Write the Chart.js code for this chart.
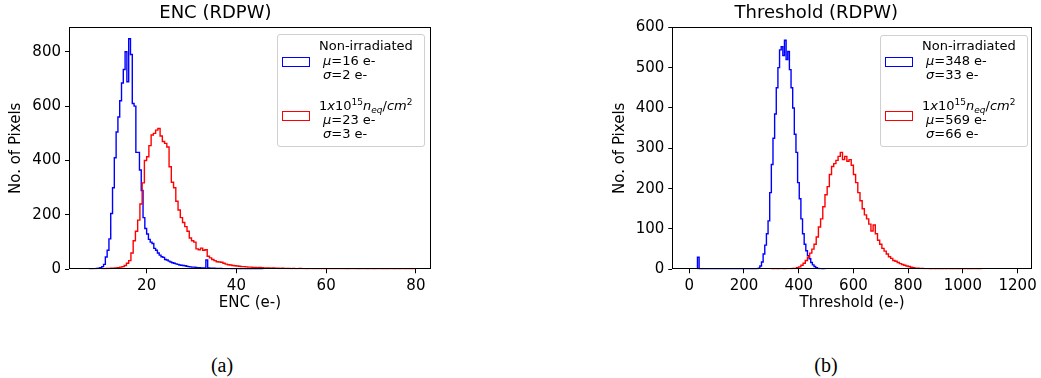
<!DOCTYPE html>
<html><head><meta charset="utf-8">
<script src="https://cdn.jsdelivr.net/npm/chart.js@4/dist/chart.umd.min.js"></script>
<style>
html,body{margin:0;padding:0;background:#fff;width:1041px;height:378px;overflow:hidden;position:relative;font-family:"DejaVu Sans",sans-serif;}
canvas{position:absolute;top:0;}
#c1{left:0}
#c2{left:600px}
.leg{position:absolute;border:1px solid #d0d0d0;border-radius:3px;background:rgba(255,255,255,0.8);box-sizing:border-box}
.patch{position:absolute;box-sizing:border-box;border:1px solid;background:transparent}
.lt{position:absolute;font-size:13px;line-height:15px;white-space:nowrap;color:#000}
.lt i{font-style:italic}
.sup{font-size:9px;vertical-align:5px}
.sub{font-size:9px;vertical-align:-3px;font-style:italic}
.cap{position:absolute;font-family:"Liberation Serif",serif;font-size:20px;line-height:22px;white-space:nowrap;transform:translateX(-50%)}
</style>
</head><body>
<canvas id="c1" width="450" height="320"></canvas>
<canvas id="c2" width="441" height="320"></canvas>

<div class="leg" style="left:277px;top:34px;width:148px;height:113px"></div>
<div class="patch" style="left:282px;top:57px;width:28px;height:10px;border-color:#0000ff"></div>
<div class="patch" style="left:282px;top:111px;width:28px;height:10px;border-color:#ff0000"></div>
<div class="lt" style="left:319px;top:38px">Non-irradiated</div>
<div class="lt" style="left:323px;top:53px"><i>μ</i>=16 e-</div>
<div class="lt" style="left:323px;top:67px"><i>σ</i>=2 e-</div>
<div class="lt" style="left:319px;top:95px">1<i>x</i>10<span class="sup">15</span><i>n</i><span class="sub">eq</span>/<i>cm</i><span class="sup">2</span></div>
<div class="lt" style="left:323px;top:112px"><i>μ</i>=23 e-</div>
<div class="lt" style="left:323px;top:126px"><i>σ</i>=3 e-</div>

<div class="leg" style="left:880px;top:35px;width:148px;height:112px"></div>
<div class="patch" style="left:885px;top:57px;width:28px;height:10px;border-color:#0000ff"></div>
<div class="patch" style="left:885px;top:111px;width:28px;height:10px;border-color:#ff0000"></div>
<div class="lt" style="left:922px;top:38px">Non-irradiated</div>
<div class="lt" style="left:926px;top:53px"><i>μ</i>=348 e-</div>
<div class="lt" style="left:926px;top:67px"><i>σ</i>=33 e-</div>
<div class="lt" style="left:922px;top:95px">1<i>x</i>10<span class="sup">15</span><i>n</i><span class="sub">eq</span>/<i>cm</i><span class="sup">2</span></div>
<div class="lt" style="left:926px;top:112px"><i>μ</i>=569 e-</div>
<div class="lt" style="left:926px;top:126px"><i>σ</i>=66 e-</div>

<div class="cap" style="left:222px;top:354px">(a)</div>
<div class="cap" style="left:826px;top:354px">(b)</div>

<script>
// ---------- data ----------
const encTitle = "ENC (RDPW)";
const encXLabel = "ENC (e-)";
const yLabel = "No. of Pixels";
const encXTicks = [20, 40, 60, 80];
const encYTicks = [0, 200, 400, 600, 800];
const encXRange = [2.7, 83.3];
const encYRange = [0, 890];

const encBlueStart = 7.2;
const encBlueWidth = 0.4;
const encBlue = [1,1,2,2,3,4,6,10,18,45,70,112,205,300,410,505,560,620,685,735,800,690,848,790,610,600,430,430,365,290,190,150,130,110,100,95,77,70,60,52,46,44,36,34,30,27,24,22,20,18,16,15,14,13,11,10,9,8,8,7,6,6,5,5,5,34,5,4,4,4,3,3,3,3,2,2,2,2,2,1,2,1,1,1,0,1,1,0,1,0,0,1,0,1,0,0,1];

const encRedStart = 10.0;
const encRedWidth = 0.5;
const encRed = [2,2,3,3,4,4,5,6,8,10,14,22,32,60,105,140,181,240,318,400,414,455,494,500,512,518,490,470,463,450,377,320,300,250,218,190,172,157,140,115,105,100,75,72,78,70,72,48,42,36,32,28,27,26,22,19,17,16,14,13,12,11,10,10,9,8,8,7,7,6,7,6,5,5,5,4,5,4,4,3,4,3,3,3,2,3,2,2,3,2,2,1,2,2,1,2,1,1,2,1,1,2,1,1,1,2,1,1,1,0,1,2,1,1,0,1,1,1,0,1,1,0,1,1,1,0,1,0,1,1,0,1,0,1,1,0,1,0,0,1];

const thrTitle = "Threshold (RDPW)";
const thrXLabel = "Threshold (e-)";
const thrXTicks = [0, 200, 400, 600, 800, 1000, 1200];
const thrYTicks = [0, 100, 200, 300, 400, 500, 600];
const thrXRange = [-62, 1252];
const thrYRange = [0, 600];

const thrBlueStart = 30;
const thrBlueWidth = 6;
const thrBlue = [30,0,0,0,0,0,0,0,0,0,0,0,0,0,0,0,0,0,0,0,0,0,0,0,0,0,0,0,0,0,0,0,0,0,0,0,
  1,3,8,18,38,60,88,120,190,260,325,385,450,500,544,552,530,568,520,540,495,450,400,335,290,215,175,125,88,62,46,34,26,17,11,7,4,2,1,1,0,1];

const thrRedStart = 296;
const thrRedWidth = 8;
const thrRed = [1,0,1,0,1,1,0,1,1,1,2,2,4,6,10,15,22,30,40,50,62,80,105,125,155,185,205,235,255,262,270,280,290,272,280,268,272,258,235,215,190,170,150,135,125,112,95,110,88,72,62,52,45,38,31,27,22,20,17,14,12,10,8,7,5,4,3,3,2,2,1,1,1,0,1,0,1,0,0,1,0,1,0,0,1,0,0,1,0,1,0,0,0,1,0,0,1];

const seriesLabels = ["Non-irradiated", "1x10^15 n_eq/cm^2"];
const seriesColors = ["#0000ff", "#ff0000"];

// ---------- helpers ----------
function stepPoints(start, width, counts) {
  const pts = [{x: start, y: 0}];
  counts.forEach((c, i) => pts.push({x: start + i * width, y: c}));
  pts.push({x: start + counts.length * width, y: 0});
  return pts;
}

Chart.defaults.font.family = "'DejaVu Sans', sans-serif";
Chart.defaults.color = "#000";

const framePlugin = {
  id: 'frame',
  afterDatasetsDraw(chart) {
    const {ctx, chartArea: a} = chart;
    ctx.save();
    ctx.strokeStyle = '#000';
    ctx.lineWidth = 1;
    const l = Math.round(a.left) + 0.5, t = Math.round(a.top) + 0.5;
    const r = Math.round(a.right) - 0.5, b = Math.round(a.bottom) - 0.5;
    ctx.strokeRect(l, t, r - l, b - t);
    ctx.restore();
  }
};

function makeChart(id, cfg) {
  const H = 320;
  const ds = [
    {label: seriesLabels[0], data: stepPoints(cfg.blueStart, cfg.blueWidth, cfg.blue), borderColor: seriesColors[0], order: 1},
    {label: seriesLabels[1], data: stepPoints(cfg.redStart, cfg.redWidth, cfg.red), borderColor: seriesColors[1], order: 0}
  ].map(d => Object.assign(d, {stepped: true, pointRadius: 0, borderWidth: 1.4, fill: false, tension: 0}));
  return new Chart(document.getElementById(id), {
    type: 'line',
    data: {datasets: ds},
    plugins: [framePlugin],
    options: {
      responsive: false, animation: false, devicePixelRatio: 1,
      layout: {padding: {left: 0, top: 0, right: cfg.padRight, bottom: 0}},
      plugins: {
        legend: {display: false}, tooltip: {enabled: false},
        title: {display: true, text: cfg.title, font: {size: 18, weight: 'normal'}, color: '#000', padding: {top: 3, bottom: 2.7}}
      },
      scales: {
        x: {
          type: 'linear', min: cfg.xRange[0], max: cfg.xRange[1],
          afterBuildTicks: s => { s.ticks = cfg.xTicks.map(v => ({value: v})); },
          afterFit: s => { s.height = H - 269.3; },
          grid: {drawOnChartArea: false, drawTicks: true, tickLength: 4, tickColor: '#000'},
          border: {display: false},
          ticks: {font: {size: 15}, padding: 4, maxRotation: 0, color: '#000', callback: v => String(v)},
          title: {display: true, text: cfg.xLabel, font: {size: 15}, padding: {top: 0, bottom: 7.7}, color: '#000'}
        },
        y: {
          type: 'linear', min: cfg.yRange[0], max: cfg.yRange[1],
          afterBuildTicks: s => { s.ticks = cfg.yTicks.map(v => ({value: v})); },
          afterFit: s => { s.width = cfg.yWidth; },
          grid: {drawOnChartArea: false, drawTicks: true, tickLength: 4, tickColor: '#000'},
          border: {display: false},
          ticks: {font: {size: 15}, padding: 4, color: '#000', callback: v => String(v)},
          title: {display: true, text: yLabel, font: {size: 15}, padding: {top: cfg.yTitlePad, bottom: 0}, color: '#000'}
        }
      }
    }
  });
}

makeChart('c1', {
  title: encTitle, xLabel: encXLabel, xTicks: encXTicks, yTicks: encYTicks,
  xRange: encXRange, yRange: encYRange,
  blueStart: encBlueStart, blueWidth: encBlueWidth, blue: encBlue,
  redStart: encRedStart, redWidth: encRedWidth, red: encRed,
  yWidth: 69, padRight: 450 - 430.7, yTitlePad: 6.8
});
makeChart('c2', {
  title: thrTitle, xLabel: thrXLabel, xTicks: thrXTicks, yTicks: thrYTicks,
  xRange: thrXRange, yRange: thrYRange,
  blueStart: thrBlueStart, blueWidth: thrBlueWidth, blue: thrBlue,
  redStart: thrRedStart, redWidth: thrRedWidth, red: thrRed,
  yWidth: 72.3, padRight: 441 - 432.7, yTitlePad: 11.5
});
</script>
</body></html>
